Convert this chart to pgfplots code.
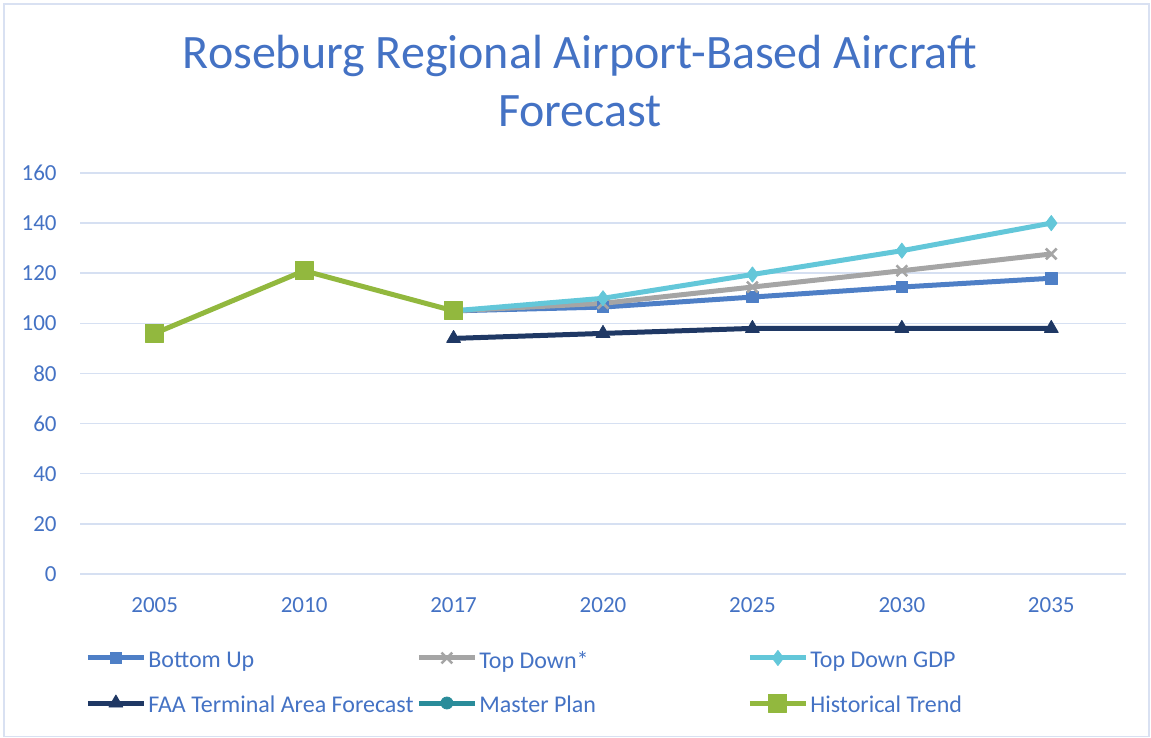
\documentclass[border=0pt]{standalone}
\usepackage{fontspec}
\setmainfont{Carlito}
\usepackage{pgfplots}
\pgfplotsset{compat=1.18}
\definecolor{txt}{HTML}{4472C4}
\definecolor{gridc}{HTML}{D6E0F2}
\definecolor{borderc}{HTML}{D9E1F2}
\definecolor{cBU}{HTML}{4E7FC6}
\definecolor{cTD}{HTML}{A5A5A5}
\definecolor{cGDP}{HTML}{63C7D9}
\definecolor{cFAA}{HTML}{1F3864}
\definecolor{cMP}{HTML}{2A8C9A}
\definecolor{cHT}{HTML}{92B83E}
\newcommand{\lent}[1]{\makebox[135pt][l]{\hspace{1pt}\rule[-2.5pt]{0pt}{10.5pt}#1}}
\begin{document}
\begin{tikzpicture}
\useasboundingbox (0pt,0pt) rectangle (575.5pt,369pt);
\draw[color=borderc, line width=0.75pt] (2pt,0.8pt) rectangle (574.5pt,367pt);
\node[anchor=base, text=txt, font=\fontsize{24}{28}\selectfont, inner sep=0pt] at (290pt,334.5pt) {Roseburg Regional Airport-Based Aircraft};
\node[anchor=base, text=txt, font=\fontsize{24}{28}\selectfont, inner sep=0pt] at (290pt,305.5pt) {Forecast};
\begin{axis}[
  at={(40pt,82pt)}, anchor=south west,
  scale only axis, width=523pt, height=200.5pt,
  xmin=-0.5, xmax=6.5, ymin=0, ymax=160,
  ytick={0,20,...,160},
  xtick={0,...,6},
  xticklabels={2005,2010,2017,2020,2025,2030,2035},
  axis line style={draw=none},
  tick style={draw=none},
  major tick length=0pt,
  ymajorgrids,
  grid style={color=gridc, line width=0.75pt},
  tick label style={text=txt, font=\fontsize{11.5}{13}\selectfont},
  yticklabel style={anchor=east, inner sep=0pt, xshift=-11.5pt},
  xticklabel style={anchor=base, inner sep=0pt, yshift=-19.5pt},
  /pgf/number format/assume math mode=true,
  clip=false,
  legend columns=3,
  legend style={draw=none, fill=none, at={(axis description cs:0.00478,-0.1895)}, anchor=north west,
    inner sep=0pt, row sep=11.5pt, column sep=0pt,
    font=\fontsize{12}{14}\selectfont, text=txt,
    nodes={inner sep=0pt}},
  legend image code/.code={\draw[#1, mark repeat=2, mark phase=2] plot coordinates {(0pt,1.5pt) (14pt,1.5pt) (28pt,1.5pt)};},
  every axis plot/.append style={line width=2.5pt, line join=round},
]
\addplot[color=cBU, mark=square*, mark size=2.9pt, mark options={line width=0.4pt}]
  coordinates {(2,105) (3,106.5) (4,110.5) (5,114.5) (6,118)};
\addlegendentry{\lent{Bottom Up}}
\addplot[color=cTD, mark=x, mark size=3.8pt, mark options={line width=1.3pt}]
  coordinates {(2,105) (3,108) (4,114.5) (5,121) (6,127.7)};
\addlegendentry{\lent{Top Down*}}
\addplot[color=cGDP, mark=diamond*, mark size=3.8pt, mark options={line width=0.4pt}]
  coordinates {(2,105) (3,110) (4,119.5) (5,129) (6,140)};
\addlegendentry{\lent{Top Down GDP}}
\addplot[color=cFAA, mark=triangle*, mark size=4pt, mark options={line width=0.4pt}]
  coordinates {(2,94) (3,96) (4,98) (5,98) (6,98)};
\addlegendentry{\lent{FAA Terminal Area Forecast}}
\addlegendimage{color=cMP, line width=2.5pt, mark=*, mark size=3pt, mark options={line width=0.4pt}}
\addlegendentry{\lent{Master Plan}}
\addplot[color=cHT, mark=square*, mark size=4.5pt, mark options={line width=0.4pt}]
  coordinates {(0,96) (1,121) (2,105)};
\addlegendentry{\lent{Historical Trend}}
\end{axis}
\end{tikzpicture}
\end{document}
